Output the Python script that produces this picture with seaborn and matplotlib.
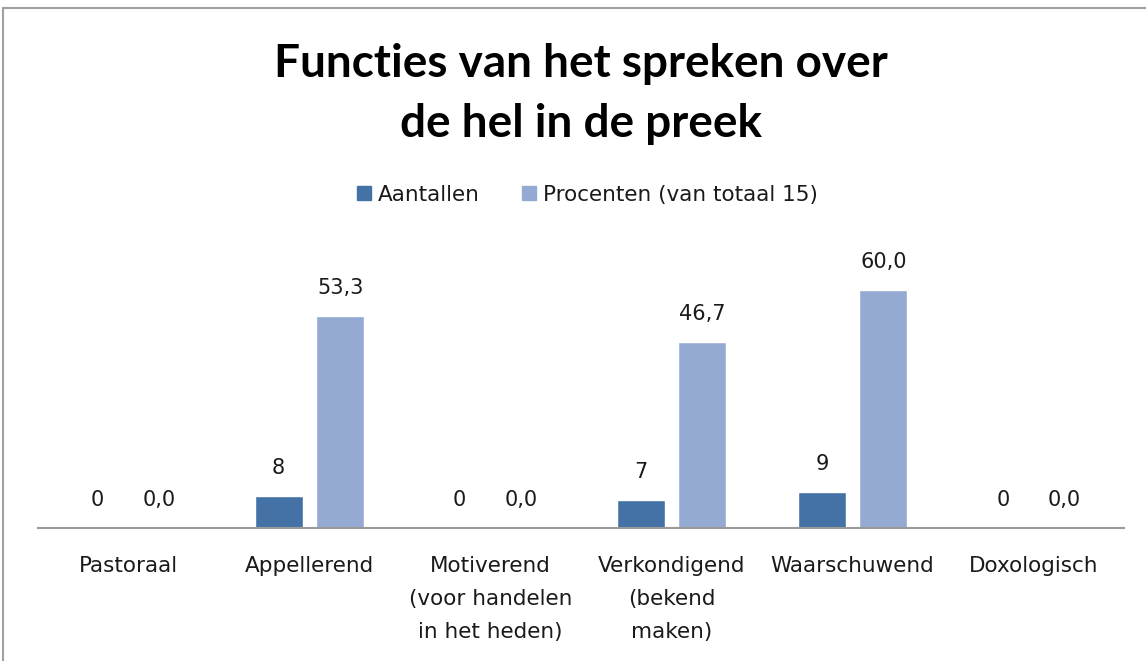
import pandas as pd
import matplotlib.pyplot as plt
import seaborn as sns
from matplotlib.lines import Line2D

categories = [
    "Pastoraal",
    "Appellerend",
    "Motiverend\n(voor handelen\nin het heden)",
    "Verkondigend\n(bekend\nmaken)",
    "Waarschuwend",
    "Doxologisch",
]
aantallen = [0, 8, 0, 7, 9, 0]
procenten = [0.0, 53.3, 0.0, 46.7, 60.0, 0.0]
series = ["Aantallen", "Procenten (van totaal 15)"]
colors = ["#4472A6", "#95AAD3"]

data = pd.DataFrame({
    "categorie": categories * 2,
    "waarde": aantallen + procenten,
    "reeks": [series[0]] * len(categories) + [series[1]] * len(categories),
})

sns.set_theme(style="white")
plt.rcParams["font.family"] = ["DejaVu Sans"]

fig = plt.figure(figsize=(11.46, 6.61), dpi=100)
ax = fig.add_axes([0.033, 0.201, 0.948, 0.421])

sns.barplot(
    data=data, x="categorie", y="waarde", hue="reeks",
    palette=colors, width=0.68, gap=0.22, ax=ax, legend=False,
    saturation=1,
)

# value labels, Dutch decimal comma
ax.bar_label(ax.containers[0], labels=[str(v) for v in aantallen],
             padding=13, fontsize=15, color="#1a1a1a")
ax.bar_label(ax.containers[1],
             labels=[f"{v:.1f}".replace(".", ",") for v in procenten],
             padding=13, fontsize=15, color="#1a1a1a")

ax.set_ylim(0, 70)
ax.set_xlim(-0.5, len(categories) - 0.5)
ax.set_yticks([])
ax.set_xlabel("")
ax.set_ylabel("")
for side in ["top", "right", "left"]:
    ax.spines[side].set_visible(False)
ax.spines["bottom"].set_color("#9a9a9a")
ax.spines["bottom"].set_linewidth(1.5)
ax.tick_params(axis="x", length=0, pad=20, labelsize=15.5, labelcolor="#1a1a1a")
for lbl in ax.get_xticklabels():
    lbl.set_linespacing(1.8)
    lbl.set_verticalalignment("top")

handles = [Line2D([0], [0], marker="s", linestyle="", markersize=9.5,
                  markerfacecolor=c, markeredgecolor=c) for c in colors]
fig.legend(handles, series, loc="center", bbox_to_anchor=(0.511, 0.705),
           ncol=2, frameon=False, fontsize=15.5, handlelength=1.0,
           handletextpad=0.14, columnspacing=1.77, labelcolor="#1a1a1a")

fig.text(0.507, 0.858, "Functies van het spreken over\nde hel in de preek",
         ha="center", va="center", fontsize=33, fontweight="bold",
         linespacing=1.55, color="black", family=["Lato", "DejaVu Sans"])

# chart border
fig.add_artist(Line2D([3 / 1146, 3 / 1146], [0, 1 - 8 / 661],
                      transform=fig.transFigure, color="#a0a0a0", lw=1.5))
fig.add_artist(Line2D([3 / 1146, 1], [1 - 8 / 661, 1 - 8 / 661],
                      transform=fig.transFigure, color="#a0a0a0", lw=1.5))

fig.savefig("out.png", dpi=100)
